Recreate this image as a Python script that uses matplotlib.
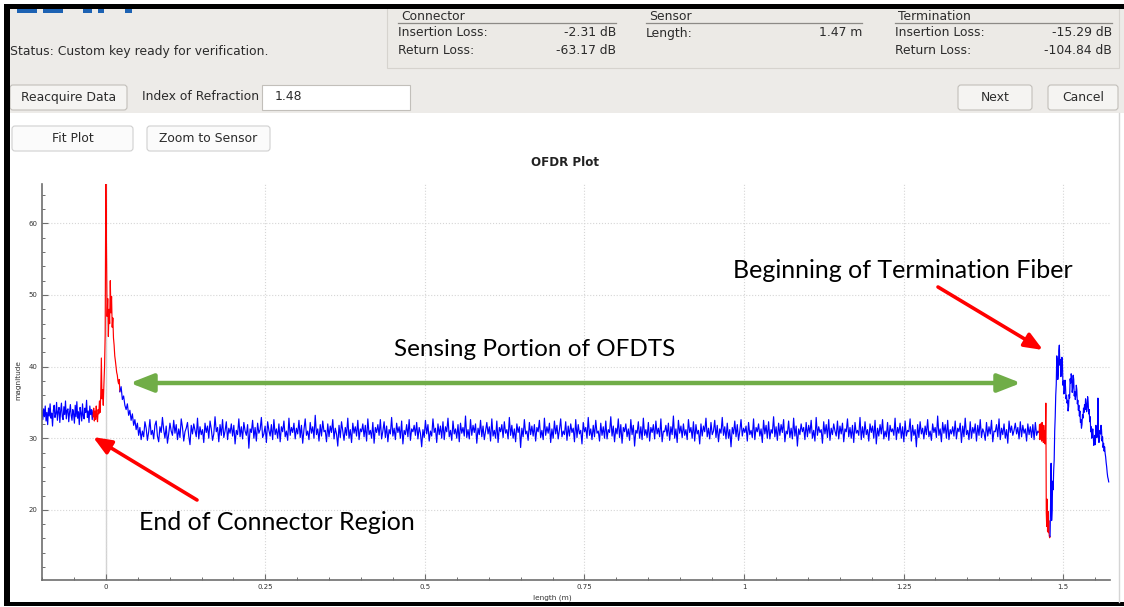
import matplotlib.pyplot as plt
import numpy as np
from matplotlib.patches import Rectangle, FancyBboxPatch, FancyArrowPatch
from matplotlib.ticker import MultipleLocator
from matplotlib.transforms import Affine2D

W, H = 1124, 607

# --- OFDR trace (magnitude), one list per colour run ---
seg_edges = [-0.10, -0.02, 0.022, 1.4624, 1.4796, 1.5715]  # length (m)
seg_colors = ['blue', 'red', 'blue', 'red', 'blue']

connector_base = [33.8, 32.6, 34.1, 33.0, 34.5, 32.4, 33.6, 31.9, 34.2, 33.1, 34.8, 32.8, 33.5,
                  31.7, 33.9, 34.6, 32.9, 33.4, 35.0, 32.5, 33.7, 34.3, 32.2, 33.8, 34.9, 33.0,
                  32.6, 34.4, 33.3, 35.2, 32.7, 33.9, 34.1, 32.3, 33.6, 34.7, 33.2, 32.5, 34.0,
                  33.4, 32.1, 34.6, 33.0, 35.1, 32.8, 33.7, 31.9, 34.3, 33.5, 32.4, 34.8, 33.1,
                  32.7, 34.2, 33.6, 35.3, 32.9, 33.8, 32.2, 34.5, 33.3, 34.0, 32.6, 33.9]

connector_peak = [33.0, 34.2, 32.4, 33.8, 32.6, 34.5, 33.1, 32.3, 34.0, 33.4,
                  35.2, 33.6, 36.0, 41.2, 35.5, 36.8, 34.6, 37.5, 40.0, 44.5,
                  67.0, 57.0, 47.0, 49.5, 44.2, 48.0, 46.0, 52.0, 47.5, 49.8,
                  45.5, 46.8, 44.0, 43.0, 41.5, 40.8, 40.0, 39.2, 38.8, 38.0,
                  37.6, 38.2, 36.5]

sensing = [
    36.5, 37.2, 35.4, 35.9, 34.6, 34.0, 34.8, 33.2, 33.9, 32.5, 33.4, 31.8, 32.6, 31.2, 32.1, 30.4, 31.5, 29.8, 31.0,
    30.2, 32.3, 31.4, 29.7, 30.9, 32.6, 30.5, 31.1, 29.9, 31.8, 32.4, 30.3, 29.5, 31.6, 30.8, 32.9, 31.2, 30.0, 31.7, 29.3, 30.6, 32.1, 31.0, 30.4,
    32.5, 30.7, 31.9, 29.8, 31.3, 30.1, 32.7, 31.5, 29.6, 30.9, 31.4, 32.2, 30.3, 29.1, 31.8, 30.6, 32.0, 31.1, 30.2, 32.8, 29.9, 31.6, 30.5, 31.2,
    29.4, 32.1, 30.8, 31.7, 30.0, 32.4, 31.3, 29.7, 30.6, 33.0, 30.9, 31.5, 29.5, 31.9, 30.4, 32.6, 30.1, 31.0, 32.3, 29.8, 31.4, 30.7, 32.0, 30.3,
    31.8, 29.2, 31.1, 30.5, 32.7, 30.2, 31.6, 29.9, 32.2, 31.0, 30.4, 31.9, 28.6, 31.3, 30.8, 32.5, 30.0, 31.5, 29.6, 32.1, 30.7, 31.2, 32.9, 30.1,
    30.6, 31.7, 29.4, 32.3, 31.1, 30.3, 31.9, 29.8, 32.6, 30.5, 31.3, 30.0, 32.0, 29.5, 31.6, 30.9, 32.4, 30.2, 31.0, 29.7, 32.8, 30.4, 31.5, 30.8,
    32.1, 29.9, 31.4, 30.6, 32.5, 30.1, 31.8, 29.3, 31.2, 32.7, 30.4, 31.0, 29.8, 32.2, 30.7, 31.6, 30.0, 33.2, 30.5, 31.3, 29.6, 31.9, 30.3, 32.4,
    30.9, 31.1, 29.5, 32.0, 30.2, 31.7, 30.8, 32.6, 29.9, 31.4, 30.6, 28.9, 31.8, 30.1, 32.3, 31.0, 29.7, 31.5, 30.4, 32.8, 30.0, 31.2, 29.4, 32.1,
    30.7, 31.6, 30.3, 32.5, 29.8, 31.3, 30.9, 32.0, 30.2, 31.8, 29.6, 32.7, 30.5, 31.1, 30.0, 32.2, 29.3, 31.5, 30.8, 31.9, 30.4, 32.6, 29.9, 31.0,
    32.3, 30.1, 31.7, 29.5, 31.2, 30.6, 32.9, 30.3, 31.4, 29.8, 32.1, 30.8, 31.6, 30.0, 32.4, 29.2, 31.1, 30.5, 31.9, 30.2, 32.6, 29.7, 31.3, 30.9,
    31.8, 30.4, 32.2, 29.9, 31.5, 30.7, 28.8, 31.2, 30.1, 32.5, 30.6, 31.9, 29.6, 31.0, 30.3, 32.7, 30.8, 31.4, 29.4, 32.0, 30.5, 31.7, 30.0, 32.3,
    29.8, 31.6, 30.9, 32.8, 30.2, 31.1, 29.7, 32.4, 30.6, 31.3, 30.0, 31.9, 29.5, 32.1, 30.7, 31.5, 30.3, 33.1, 30.1, 31.2, 29.9, 32.6, 30.4, 31.8,
    30.8, 32.0, 29.3, 31.4, 30.5, 32.5, 30.2, 31.7, 29.8, 31.0, 32.2, 30.6, 31.6, 29.6, 32.7, 30.3, 31.1, 30.0, 32.4, 29.4, 31.5, 30.9, 31.9, 30.1,
    32.3, 30.7, 31.2, 29.9, 32.9, 30.4, 31.8, 30.0, 31.3, 29.5, 32.0, 30.8, 31.6, 28.7, 31.4, 30.2, 32.6, 30.6, 31.0, 29.7, 32.2, 30.5, 31.7, 30.3,
    31.9, 29.6, 31.5, 30.9, 32.5, 30.1, 31.1, 29.8, 32.8, 30.4, 31.6, 30.7, 32.1, 29.4, 31.3, 30.0, 32.4, 30.6, 31.8, 29.9, 31.2, 32.7, 30.2, 31.0,
    30.5, 32.3, 29.7, 31.7, 30.3, 32.0, 30.8, 31.4, 29.5, 32.6, 30.1, 31.9, 30.6, 31.1, 29.2, 32.2, 30.9, 31.5, 30.0, 32.9, 30.4, 31.3, 29.8, 31.8,
    30.2, 32.5, 30.7, 31.0, 29.6, 32.1, 30.4, 31.6, 30.0, 32.4, 29.9, 31.2, 30.8, 33.0, 30.3, 31.7, 29.5, 31.4, 30.6, 32.7, 30.1, 31.9, 29.3, 31.5,
    30.9, 32.0, 30.2, 31.3, 29.7, 32.6, 30.5, 31.8, 28.9, 31.1, 30.7, 32.3, 30.0, 31.6, 29.8, 32.8, 30.4, 31.2, 30.1, 32.2, 29.6, 31.5, 30.8, 31.9,
    29.9, 32.4, 30.6, 31.4, 30.2, 32.7, 29.5, 31.0, 30.9, 31.8, 30.3, 32.1, 29.7, 31.6, 30.5, 33.1, 30.0, 31.3, 29.4, 32.5, 30.7, 31.7, 30.1, 32.0,
    30.4, 31.2, 29.8, 32.6, 30.8, 31.5, 30.0, 32.3, 29.6, 31.9, 30.6, 31.1, 29.2, 32.0, 30.3, 31.7, 30.9, 32.8, 30.2, 31.4, 29.9, 32.2, 30.5, 31.0,
    32.5, 30.1, 31.8, 29.5, 31.3, 30.7, 32.9, 30.4, 31.6, 29.9, 32.1, 30.0, 31.2, 28.8, 31.5, 30.6, 32.4, 30.2, 31.9, 29.7, 31.0, 32.6, 30.3, 31.4,
    30.8, 31.7, 29.6, 32.2, 30.5, 31.1, 30.1, 32.7, 29.8, 31.5, 30.9, 32.0, 30.3, 31.3, 29.4, 32.5, 30.6, 31.8, 30.0, 32.3, 29.9, 31.2, 30.7, 33.0,
    30.2, 31.6, 29.7, 32.1, 30.4, 31.9, 30.8, 32.6, 29.5, 31.0, 30.6, 32.4, 30.1, 31.4, 29.9, 32.8, 30.3, 31.7, 28.9, 31.3, 30.5, 32.0, 30.9, 31.5,
    29.8, 32.2, 30.2, 31.8, 30.7, 32.5, 30.0, 31.1, 29.6, 32.9, 30.4, 31.6, 30.8, 31.2, 29.3, 32.3, 30.6, 31.9, 30.1, 32.6, 29.7, 31.4, 30.5, 32.0,
    31.0, 30.3, 32.4, 29.9, 31.7, 30.6, 32.1, 29.5, 31.3, 30.9, 32.7, 30.2, 31.5, 30.0, 31.8, 29.4, 32.2, 30.7, 31.1, 30.4, 32.9, 29.8, 31.6, 30.1,
    32.3, 30.5, 31.2, 29.6, 32.0, 30.8, 31.7, 30.0, 32.5, 29.2, 31.4, 30.3, 31.9, 30.6, 32.6, 29.9, 31.0, 30.2, 32.2, 29.7, 31.8, 30.9, 31.3, 30.4,
    32.8, 29.8, 31.5, 30.7, 32.1, 30.0, 31.6, 29.5, 32.4, 30.3, 31.1, 30.9, 32.7, 29.6, 31.8, 30.4, 31.2, 28.8, 31.9, 30.1, 32.3, 30.6, 31.4, 29.9,
    31.7, 30.5, 32.6, 30.2, 31.0, 29.7, 32.0, 30.8, 31.5, 30.1, 33.1, 30.4, 31.3, 29.5, 32.2, 30.7, 31.9, 30.0, 32.5, 29.8, 31.2, 30.6, 31.6, 30.3,
    32.4, 29.9, 31.4, 30.9, 32.1, 29.4, 31.7, 30.2, 32.8, 30.5, 31.1, 29.8, 32.3, 30.0, 31.5, 30.7, 32.0, 29.6, 31.8, 30.4, 32.6, 30.1, 31.3, 30.8,
    29.7, 32.2, 30.3, 31.6, 30.6, 32.5, 29.5, 31.0, 30.9, 31.9, 30.2, 32.7, 29.8, 31.4, 30.5, 32.0, 30.0, 31.2, 29.3, 32.4, 30.8, 31.7, 30.4, 31.1,
    32.1, 30.6, 31.5, 29.9, 32.3, 30.2, 31.8, 30.7, 31.3, 29.6, 32.0, 30.5, 31.6, 30.1, 31.9, 29.8, 32.2, 30.4, 31.0, 30.8]

termination_dip = [30.8, 31.9, 29.8, 32.0, 30.4, 31.6, 29.6, 32.2, 30.0, 31.5,
                   29.4, 31.8, 30.2, 31.0, 29.2, 30.5, 34.9, 19.6, 17.7, 21.5,
                   17.0, 19.8, 16.8, 18.5, 16.4, 16.1, 16.3]

termination_fiber = [16.3, 21.0, 26.5, 18.5, 20.0, 24.0, 22.8, 25.5, 27.0, 31.0, 33.0, 36.0, 37.5,
                     41.5, 40.9, 38.2, 39.1, 42.2, 43.0, 40.2, 41.0, 38.6, 39.5, 41.3, 40.6, 37.4,
                     38.0, 36.2, 36.7, 38.1, 37.2, 35.5, 36.0, 34.9, 35.3, 33.8, 34.4, 36.1, 35.6,
                     38.3, 37.7, 39.0, 38.6, 36.4, 37.0, 38.8, 38.2, 35.9, 36.5, 35.4, 36.0, 37.4,
                     36.8, 34.8, 35.3, 33.9, 34.6, 33.1, 33.8, 32.2, 32.6, 31.4, 31.9, 33.3, 32.8,
                     34.2, 33.6, 34.7, 34.0, 35.5, 34.9, 33.7, 34.3, 35.8, 35.1, 33.4, 34.0, 32.3,
                     33.0, 30.9, 31.6, 30.0, 30.6, 31.3, 30.2, 29.0, 29.6, 30.4, 29.1, 31.8, 31.2,
                     30.1, 30.7, 35.6, 30.2, 29.4, 29.8, 31.1, 30.6, 31.8, 31.2, 29.6, 30.2, 28.7,
                     29.3, 28.2, 28.8, 27.9, 27.4, 26.6, 26.0, 25.2, 24.6, 24.3, 23.9]

x_ticks = [0, 0.25, 0.5, 0.75, 1, 1.25, 1.5]
x_ticklabels = ['0', '0.25', '0.5', '0.75', '1', '1.25', '1.5']
y_ticks = [20, 30, 40, 50, 60]

# --- summary panel ---
status_msg = 'Status: Custom key ready for verification.'
refraction_index = '1.48'
panel_groups = [
    ('Connector', [('Insertion Loss:', '-2.31 dB'), ('Return Loss:', '-63.17 dB')]),
    ('Sensor', [('Length:', '1.47 m')]),
    ('Termination', [('Insertion Loss:', '-15.29 dB'), ('Return Loss:', '-104.84 dB')]),
]

fig = plt.figure(figsize=(W / 100, H / 100), dpi=100)
fig.patch.set_facecolor('white')
# top-left pixel coordinates for the GUI chrome and callouts
pix = Affine2D().scale(1 / W, -1 / H).translate(0, 1) + fig.transFigure

gui_txt = dict(transform=pix, fontsize=8.9, color='#2b2b2b', family='DejaVu Sans')


def rect(x0, y0, x1, y1, **kw):
    fig.add_artist(Rectangle((x0, y0), x1 - x0, y1 - y0, transform=pix, **kw))


def button(x0, y0, x1, y1, label, face='#f5f4f2', edge='#c2bfba'):
    fig.add_artist(FancyBboxPatch((x0, y0), x1 - x0, y1 - y0, transform=pix,
                                  boxstyle='round,pad=0,rounding_size=3',
                                  facecolor=face, edgecolor=edge, lw=0.8))
    fig.text((x0 + x1) / 2, (y0 + y1) / 2, label, ha='center', va='center', **gui_txt)


# grey control panel
rect(10, 9, W, 113, facecolor='#edebe8', edgecolor='none')
rect(387, 6, 1119, 68, facecolor='#eceae6', edgecolor='#d6d3ce', lw=0.8)

col_x = [(398, 616), (646, 862), (895, 1112)]
for (x0, x1), (head, rows) in zip(col_x, panel_groups):
    fig.text(x0 + 3, 16, head, va='center', **gui_txt)
    fig.add_artist(plt.Line2D([x0, x1], [23, 23], transform=pix, color='#8c8a86', lw=0.9))
    for k, (name, val) in enumerate(rows):
        yy = 33 + 17 * k
        fig.text(x0, yy, name, va='center', **gui_txt)
        fig.text(x1, yy, val, va='center', ha='right', **gui_txt)

fig.text(10, 51, status_msg, va='center', **gui_txt)

button(10, 85, 127, 110, 'Reacquire Data')
fig.text(142, 97, 'Index of Refraction', va='center', **gui_txt)
rect(262, 85, 410, 110, facecolor='white', edgecolor='#c2bfba', lw=0.8)
fig.text(275, 97, refraction_index, va='center', **gui_txt)
button(958, 85, 1032, 110, 'Next')
button(1048, 85, 1118, 110, 'Cancel')

button(12, 126, 133, 151, 'Fit Plot', face='#fbfbfb', edge='#d0d0d0')
button(147, 126, 270, 151, 'Zoom to Sensor', face='#fbfbfb', edge='#d0d0d0')

# screenshot frame + logo fragments
fig.add_artist(plt.Line2D([1119, 1119], [113, 602], transform=pix, color='#d5d5d5', lw=1))
for a, b in [(17, 37), (43, 63), (83, 92), (98, 104), (125, 132)]:
    rect(a, 9, b, 13, facecolor='#1d62b3', edgecolor='none')
rect(4, 4, W, 9, facecolor='black', edgecolor='none')
rect(4, 4, 10, 606, facecolor='black', edgecolor='none')
rect(4, 602, W, 606, facecolor='black', edgecolor='none')

# --- OFDR plot ---
ax = fig.add_axes([42 / W, 1 - 580 / H, 1068 / W, 396 / H])
ax.axvline(0, color='#d2d2d2', lw=1, zorder=0.5)
for i, vals in enumerate([connector_base, connector_peak, sensing, termination_dip, termination_fiber]):
    xs = np.linspace(seg_edges[i], seg_edges[i + 1], len(vals))
    ax.plot(xs, vals, color=seg_colors[i], lw=0.85)

ax.set_xlim(-0.1, 1.5735)
ax.set_ylim(10.2, 65.5)
ax.set_xticks(x_ticks)
ax.set_xticklabels(x_ticklabels)
ax.set_yticks(y_ticks)
ax.xaxis.set_minor_locator(MultipleLocator(0.05))
ax.yaxis.set_minor_locator(MultipleLocator(2))
ax.grid(True, which='major', color='#d6d6d6', linestyle=':', lw=0.8)
ax.set_axisbelow(True)
for s in ['top', 'right']:
    ax.spines[s].set_visible(False)
for s in ['left', 'bottom']:
    ax.spines[s].set_color('#6e6e6e')
    ax.spines[s].set_linewidth(1.2)
ax.tick_params(which='both', direction='in', colors='#6e6e6e', labelcolor='#333333',
               labelsize=5, pad=3)
ax.tick_params(which='major', length=4, width=0.8)
ax.tick_params(which='minor', length=2, width=0.7)

ax.set_xlabel('length (m)', fontsize=5.3, color='#333333')
ax.set_ylabel('magnitude', fontsize=5.3, color='#333333')
ax.xaxis.set_label_coords(0.478, -0.045)
ax.xaxis.label.set_va('center')
ax.yaxis.set_label_coords(-0.0225, 0.505)
ax.yaxis.label.set_va('center')
fig.text(565, 163, 'OFDR Plot', ha='center', va='center', fontsize=8.6,
         weight='bold', color='#222222', transform=pix)

# --- slide callouts ---
note = dict(transform=pix, family=['Lato', 'DejaVu Sans'], color='black',
            ha='center', va='center')
fig.text(535, 349, 'Sensing Portion of OFDTS', fontsize=17.5, **note)
fig.text(903, 270, 'Beginning of Termination Fiber', fontsize=18, **note)
fig.text(277, 522, 'End of Connector Region', fontsize=18, **note)

fig.add_artist(FancyArrowPatch((130, 383), (1021, 383), transform=pix,
                               arrowstyle='<|-|>,head_length=14,head_width=5.5',
                               mutation_scale=1, color='#70ad47', lw=3.2,
                               shrinkA=0, shrinkB=0))
for tail, tip in [((938, 287), (1043, 350)), ((197, 500), (93, 437))]:
    fig.add_artist(FancyArrowPatch(tail, tip, transform=pix,
                                   arrowstyle='-|>,head_length=11,head_width=4.5',
                                   mutation_scale=1, color='#ff0000', lw=2.6,
                                   shrinkA=0, shrinkB=0))

fig.savefig('out.png', dpi=100)
